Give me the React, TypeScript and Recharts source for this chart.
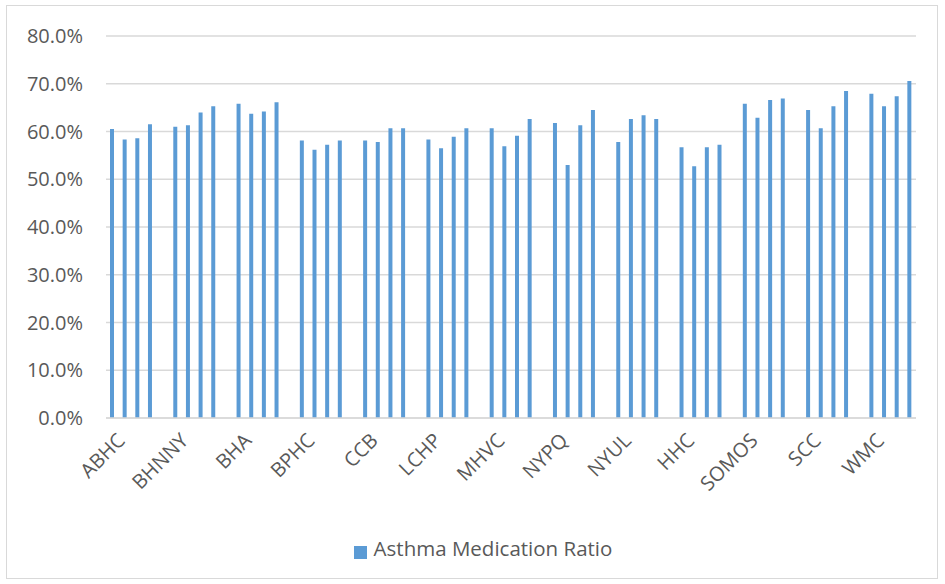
import { BarChart, Bar, XAxis, YAxis, CartesianGrid, Legend } from 'recharts';

const plans = ['ABHC', 'BHNNY', 'BHA', 'BPHC', 'CCB', 'LCHP', 'MHVC', 'NYPQ', 'NYUL', 'HHC', 'SOMOS', 'SCC', 'WMC'];

// four measurements per plan, in the order they appear in each group
const ratio1 = [60.5, 61.0, 65.8, 58.1, 58.1, 58.3, 60.7, 61.8, 57.8, 56.7, 65.8, 64.5, 67.9];
const ratio2 = [58.3, 61.3, 63.7, 56.2, 57.8, 56.5, 56.9, 53.0, 62.6, 52.7, 62.9, 60.7, 65.3];
const ratio3 = [58.6, 64.0, 64.2, 57.2, 60.7, 58.9, 59.1, 61.3, 63.4, 56.7, 66.6, 65.3, 67.4];
const ratio4 = [61.5, 65.3, 66.1, 58.1, 60.7, 60.7, 62.6, 64.5, 62.6, 57.2, 66.9, 68.5, 70.6];

const yTicks = [0, 10, 20, 30, 40, 50, 60, 70, 80];

const FONT = '"Open Sans", sans-serif';
const TEXT = '#595959';
const BLUE = '#5B9BD5';

type Row = { label: string; value: number | null };

const rows: Row[] = [];
plans.forEach((p, i) => {
  const vals = [ratio1[i], ratio2[i], ratio3[i], ratio4[i]];
  vals.forEach((v, j) => rows.push({ label: j === 0 ? p : '', value: v }));
  if (i < plans.length - 1) rows.push({ label: '', value: null });
});

function AngledTick(props: any) {
  const { x, y, payload } = props;
  if (!payload.value) return null;
  const ax = x + 10;
  const ay = y + 12;
  return (
    <text
      x={ax}
      y={ay}
      transform={`rotate(-45 ${ax} ${ay})`}
      textAnchor="end"
      dominantBaseline="middle"
      fill={TEXT}
      fontSize={20}
      fontFamily={FONT}
    >
      {payload.value}
    </text>
  );
}

export default function App() {
  return (
    <div style={{ position: 'absolute', left: 0, top: 0, width: 945, height: 584, background: '#fff' }}>
      <div
        style={{
          position: 'absolute',
          left: 6,
          top: 5,
          width: 932,
          height: 574,
          border: '1px solid #d9d9d9',
          boxSizing: 'border-box',
        }}
      />
      <BarChart
        width={945}
        height={584}
        data={rows}
        margin={{ top: 36, right: 29, left: 0, bottom: 0 }}
        style={{ position: 'absolute', left: 0, top: 0 }}
      >
        <CartesianGrid vertical={false} stroke="#d9d9d9" strokeWidth={1.5} />
        <XAxis
          dataKey="label"
          interval={0}
          tick={<AngledTick />}
          tickLine={false}
          axisLine={{ stroke: '#d9d9d9', strokeWidth: 1.5 }}
          height={116}
        />
        <YAxis
          domain={[0, 80]}
          ticks={yTicks}
          tickFormatter={(v: number) => v.toFixed(1) + '%'}
          tick={{ fill: TEXT, fontSize: 20, fontFamily: FONT }}
          tickLine={false}
          axisLine={false}
          tickSize={0}
          tickMargin={23}
          width={106}
        />
        <Legend
          verticalAlign="bottom"
          iconType="square"
          iconSize={13}
          height={50}
          wrapperStyle={{ left: 30 }}
          formatter={(value) => (
            <span style={{ color: TEXT, fontSize: 20.5, fontFamily: FONT, marginLeft: 3 }}>{value}</span>
          )}
        />
        <Bar
          dataKey="value"
          name="Asthma Medication Ratio"
          fill={BLUE}
          barSize={4}
          isAnimationActive={false}
        />
      </BarChart>
    </div>
  );
}
